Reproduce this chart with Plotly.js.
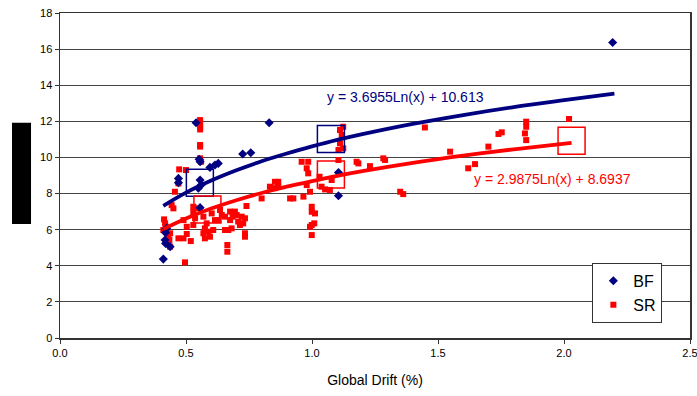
<!DOCTYPE html>
<html>
<head>
<meta charset="utf-8">
<script src="https://cdn.plot.ly/plotly-3.0.1.min.js"></script>
<style>html,body{margin:0;padding:0;background:#fff;}#chart{width:697px;height:396px;}</style>
</head>
<body>
<div id="chart"></div>
<script>
// BF data points (Global Drift %, value)
const bfX = [0.41, 0.417, 0.419, 0.423, 0.419, 0.437, 0.47, 0.47, 0.54, 0.552, 0.556, 0.556, 0.56, 0.549, 0.556, 0.595, 0.615, 0.628, 0.725, 0.757, 0.83, 1.105, 1.105, 2.193];
const bfY = [4.37, 5.43, 5.24, 6.07, 5.83, 5.06, 8.84, 8.6, 11.92, 9.9, 9.76, 8.75, 8.47, 8.29, 7.22, 9.45, 9.58, 9.67, 10.19, 10.26, 11.92, 9.17, 7.88, 16.37];

// SR data points
const srX = [0.413, 0.417, 0.42, 0.41, 0.437, 0.434, 0.437, 0.43,
  0.443, 0.45, 0.456, 0.47, 0.473, 0.5, 0.496,
  0.47, 0.49, 0.503, 0.519, 0.49, 0.503,
  0.529, 0.536, 0.529, 0.529, 0.542,
  0.556, 0.556, 0.556, 0.556, 0.556, 0.556, 0.556, 0.56,
  0.569, 0.582, 0.575, 0.569, 0.589,
  0.602, 0.615, 0.608, 0.595, 0.575,
  0.628, 0.642, 0.635, 0.655,
  0.655, 0.668, 0.681, 0.675, 0.685, 0.675, 0.694, 0.701, 0.707, 0.714, 0.727, 0.734, 0.721,
  0.664, 0.664, 0.734, 0.734, 0.74, 0.8,
  0.833, 0.853, 0.866, 0.866, 0.853,
  0.913, 0.926, 0.966,
  0.959, 0.985, 0.979, 0.985, 0.979, 0.992,
  0.999, 0.999, 1.012, 0.999, 0.992, 1.009, 0.999,
  1.038, 1.052, 1.071, 1.078, 1.03,
  1.105, 1.105, 1.124, 1.111, 1.118, 1.111, 1.124,
  1.177, 1.184, 1.23, 1.283, 1.29, 1.35, 1.362,
  1.448, 1.548, 1.62, 1.647, 1.7, 1.74, 1.753,
  1.85, 1.85, 1.845, 1.85, 2.02];
const srY = [6.57, 6.35, 6.16, 5.98, 5.8, 5.43, 5.06, 5.7,
  7.36, 7.18, 8.1, 8.56, 9.34, 9.3, 4.19,
  5.52, 5.52, 5.76, 5.37, 6.53, 6.16,
  6.26, 6.63, 6.98, 7.27, 7.18,
  12.07, 11.88, 11.7, 11.55, 10.69, 10.6, 9.95, 9.76,
  6.72, 6.35, 6.07, 5.8, 5.89,
  6.9, 6.53, 5.98, 5.61, 5.52,
  6.53, 6.81, 7.09, 6.72,
  5.98, 5.98, 6.07, 6.53, 6.72, 7.0, 7.0, 6.81, 6.45, 6.26, 6.35, 6.63, 6.72,
  5.15, 4.78, 5.8, 5.61, 7.31, 7.73,
  8.38, 8.65, 8.65, 8.4, 8.3,
  7.73, 7.73, 7.83,
  9.76, 9.76, 9.4, 9.12, 8.47, 8.1,
  7.27, 6.99, 6.9, 6.26, 6.16, 6.35, 5.7,
  8.38, 8.23, 8.2, 8.75, 8.93,
  9.86, 10.41, 10.5, 10.78, 11.24, 11.52, 11.7,
  9.76, 9.67, 9.52, 9.95, 9.86, 8.1, 7.97,
  11.66, 10.32, 9.4, 9.63, 10.6, 11.3, 11.39,
  11.98, 11.7, 11.33, 10.96, 12.13];

// Trend lines
const bfTrendX = [0.41, 0.5, 0.6, 0.7, 0.8, 0.9, 1.0, 1.1, 1.2, 1.4, 1.6, 1.8, 2.0, 2.2];
const bfTrendY = [7.32, 8.05, 8.72, 9.29, 9.79, 10.22, 10.61, 10.97, 11.29, 11.86, 12.35, 12.79, 13.17, 13.53];
const srTrendX = [0.41, 0.5, 0.6, 0.7, 0.8, 0.9, 1.0, 1.1, 1.2, 1.4, 1.6, 1.8, 2.03];
const srTrendY = [6.03, 6.62, 7.17, 7.63, 8.03, 8.38, 8.69, 8.98, 9.24, 9.70, 10.10, 10.45, 10.81];

// Mean boxes
const bfBoxX = [0.555, 1.075];
const bfBoxY = [8.6, 11.02];
const srBoxX = [0.585, 1.075, 2.03];
const srBoxY = [7.12, 9.05, 10.92];

const xTicks = [0, 0.5, 1.0, 1.5, 2.0, 2.5];
const yTicks = [0, 2, 4, 6, 8, 10, 12, 14, 16, 18];
const bfEq = 'y = 3.6955Ln(x) + 10.613';
const srEq = 'y = 2.9875Ln(x) + 8.6937';

const NAVY = '#000080', RED = '#FF0000';

const traces = [
  {x: srX, y: srY, type: 'scatter', mode: 'markers', name: 'SR', legendrank: 2,
   marker: {symbol: 'square', size: 6, color: RED}},
  {x: bfX, y: bfY, type: 'scatter', mode: 'markers', name: 'BF', legendrank: 1,
   marker: {symbol: 'diamond', size: 7, color: NAVY}},
  {x: bfBoxX, y: bfBoxY, type: 'scatter', mode: 'markers', showlegend: false,
   marker: {symbol: 'square-open', size: 27, color: NAVY, line: {width: 1.5, color: NAVY}}},
  {x: srBoxX, y: srBoxY, type: 'scatter', mode: 'markers', showlegend: false,
   marker: {symbol: 'square-open', size: 27, color: RED, line: {width: 1.5, color: RED}}},
  {x: bfTrendX, y: bfTrendY, type: 'scatter', mode: 'lines', showlegend: false,
   line: {color: NAVY, width: 3.8, shape: 'spline'}},
  {x: srTrendX, y: srTrendY, type: 'scatter', mode: 'lines', showlegend: false,
   line: {color: RED, width: 3.8, shape: 'spline'}}
];

const layout = {
  width: 697, height: 396,
  margin: {l: 60, r: 7, t: 13, b: 58},
  paper_bgcolor: '#fff', plot_bgcolor: '#fff',
  font: {family: 'Arial, Liberation Sans, sans-serif', color: '#000', size: 11},
  showlegend: true,
  legend: {x: 0.845, y: 0.231, xanchor: 'left', yanchor: 'top',
    bgcolor: '#fff', bordercolor: '#333', borderwidth: 1,
    font: {size: 16, family: 'Arial, Liberation Sans, sans-serif'},
    traceorder: 'normal', tracegroupgap: 8},
  xaxis: {range: [0, 2.5], tickvals: xTicks, tickformat: '.1f', ticklabeloverflow: 'allow',
    showgrid: false, zeroline: false, showline: true, linecolor: '#333', linewidth: 1.5,
    mirror: true, ticks: 'outside', ticklen: 4, tickcolor: '#333',
    title: {text: 'Global Drift (%)', font: {size: 14}, standoff: 17}},
  yaxis: {range: [0, 18], tickvals: yTicks,
    showgrid: true, gridcolor: '#444', gridwidth: 1, zeroline: false,
    showline: true, linecolor: '#333', linewidth: 1.5, mirror: true,
    ticks: 'outside', ticklen: 4, tickcolor: '#333'},
  shapes: [
    {type: 'rect', xref: 'paper', yref: 'paper', x0: -0.0762, x1: -0.046, y0: 0.351, y1: 0.662,
     fillcolor: '#000', line: {width: 0}}
  ],
  annotations: [
    {x: 1.37, y: 13.36, xref: 'x', yref: 'y', text: bfEq, showarrow: false,
     font: {size: 14, color: NAVY}},
    {x: 1.954, y: 8.8, xref: 'x', yref: 'y', text: srEq, showarrow: false,
     font: {size: 14, color: RED}}
  ]
};

Plotly.newPlot('chart', traces, layout, {displayModeBar: false, staticPlot: true});
</script>
</body>
</html>
